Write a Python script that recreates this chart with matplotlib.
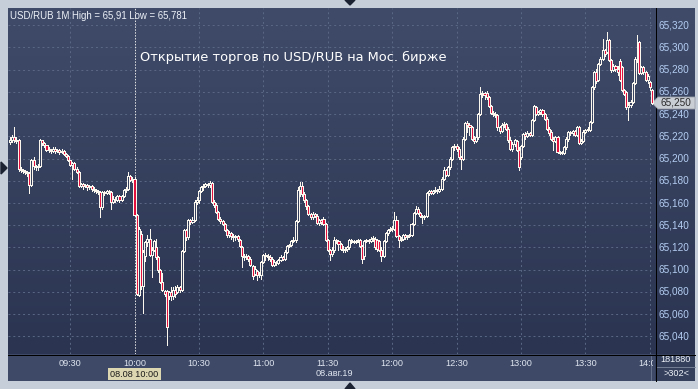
import numpy as np
import matplotlib.pyplot as plt
from matplotlib.patches import Rectangle, Polygon
from matplotlib.collections import PatchCollection

W, H = 698, 389

# 1-minute USD/RUB candles from 09:02 to 14:01, values in thousandths above 65.000
opens = [
    215, 217, 219, 217, 217, 191, 190, 189, 188, 187,
    176, 199, 193, 192, 193, 217, 214, 212, 208, 208,
    207, 209, 207, 208, 206, 207, 204, 202, 199, 194,
    196, 191, 188, 175, 177, 175, 176, 174, 175, 173,
    172, 171, 170, 156, 170, 169, 171, 170, 161, 164,
    163, 166, 163, 166, 172, 173, 184, 181, 182, 149,
    77, 132, 85, 112, 125, 128, 113, 118, 120, 111,
    100, 89, 81, 81, 76, 80, 76, 82, 80, 84,
    82, 117, 136, 129, 145, 143, 145, 161, 163, 171,
    174, 175, 177, 176, 178, 161, 158, 152, 146, 144,
    141, 136, 131, 133, 130, 129, 130, 127, 120, 112,
    111, 112, 110, 103, 96, 99, 95, 95, 107, 113,
    112, 111, 110, 104, 107, 106, 109, 111, 110, 116,
    121, 122, 126, 127, 144, 172, 175, 168, 163, 157,
    150, 147, 150, 148, 142, 145, 146, 141, 127, 118,
    114, 118, 127, 126, 123, 119, 118, 119, 120, 127,
    126, 125, 126, 127, 121, 112, 126, 127, 126, 128,
    128, 127, 126, 118, 112, 126, 133, 136, 137, 137,
    145, 130, 127, 128, 131, 129, 130, 131, 141, 151,
    155, 151, 148, 147, 148, 169, 171, 169, 171, 172,
    171, 173, 182, 190, 185, 192, 200, 210, 211, 209,
    201, 200, 218, 232, 230, 228, 218, 216, 219, 240,
    258, 259, 259, 255, 247, 241, 240, 239, 228, 225,
    230, 231, 227, 217, 209, 213, 216, 208, 201, 211,
    222, 220, 223, 221, 235, 246, 240, 242, 244, 240,
    236, 227, 224, 218, 216, 219, 206, 205, 205, 210,
    218, 224, 223, 225, 221, 228, 214, 216, 224, 226,
    226, 233, 264, 278, 271, 285, 290, 298, 296, 307,
    289, 280, 283, 281, 288, 282, 262, 260, 246, 248,
    251, 268, 290, 305, 277, 282, 278, 271, 269, 262,
]
closes = [
    217, 219, 217, 216, 191, 190, 189, 188, 187, 176,
    199, 193, 192, 193, 217, 214, 212, 208, 208, 207,
    209, 207, 208, 206, 207, 204, 202, 199, 194, 196,
    191, 188, 175, 177, 175, 176, 174, 175, 173, 172,
    171, 170, 156, 170, 169, 171, 170, 161, 164, 163,
    166, 163, 166, 172, 173, 184, 181, 182, 149, 78,
    137, 85, 116, 125, 128, 113, 118, 126, 111, 100,
    89, 82, 78, 48, 80, 76, 82, 78, 84, 82,
    117, 136, 129, 145, 143, 145, 161, 163, 171, 174,
    175, 177, 176, 178, 161, 158, 152, 146, 144, 141,
    136, 131, 133, 130, 129, 130, 128, 121, 112, 111,
    112, 110, 104, 94, 101, 95, 96, 107, 113, 112,
    111, 110, 104, 107, 106, 109, 111, 110, 116, 121,
    122, 126, 127, 144, 172, 175, 168, 163, 157, 150,
    147, 150, 148, 142, 145, 143, 141, 127, 118, 114,
    118, 127, 126, 123, 119, 118, 119, 120, 127, 126,
    125, 126, 127, 121, 110, 126, 127, 126, 128, 128,
    120, 119, 118, 112, 126, 133, 136, 137, 137, 145,
    130, 127, 128, 131, 129, 130, 131, 141, 151, 155,
    151, 148, 147, 148, 169, 171, 169, 171, 172, 171,
    173, 182, 190, 185, 192, 200, 210, 211, 209, 201,
    200, 218, 232, 230, 228, 218, 216, 219, 240, 258,
    259, 257, 255, 247, 241, 240, 239, 228, 225, 230,
    231, 227, 217, 209, 213, 217, 208, 192, 211, 222,
    220, 223, 221, 235, 247, 240, 242, 244, 240, 236,
    227, 223, 218, 216, 219, 206, 205, 206, 210, 218,
    224, 223, 225, 221, 228, 214, 216, 224, 226, 226,
    233, 264, 278, 270, 285, 290, 298, 294, 307, 289,
    280, 283, 281, 278, 271, 262, 258, 246, 248, 251,
    268, 290, 289, 277, 282, 278, 271, 274, 264, 250,
]
highs = [
    219, 221, 228, 219, 218, 192, 191, 190, 189, 188,
    200, 201, 194, 195, 218, 217, 215, 212, 210, 209,
    210, 210, 209, 209, 209, 208, 205, 203, 199, 197,
    197, 192, 189, 178, 178, 177, 177, 176, 176, 174,
    173, 172, 171, 171, 171, 172, 172, 171, 166, 165,
    167, 167, 167, 173, 174, 188, 185, 183, 183, 150,
    138, 135, 118, 126, 131, 137, 120, 127, 128, 112,
    101, 97, 82, 82, 81, 84, 84, 85, 86, 85,
    118, 137, 137, 146, 146, 147, 163, 165, 172, 175,
    177, 178, 178, 180, 179, 163, 160, 153, 147, 145,
    142, 137, 135, 134, 132, 131, 131, 128, 121, 114,
    114, 113, 111, 104, 103, 100, 98, 108, 114, 115,
    114, 113, 111, 109, 108, 110, 113, 112, 118, 122,
    123, 127, 129, 145, 174, 179, 179, 170, 164, 158,
    151, 152, 151, 150, 146, 146, 147, 142, 128, 119,
    120, 129, 128, 127, 124, 121, 120, 121, 128, 128,
    127, 127, 128, 128, 122, 127, 128, 128, 129, 130,
    129, 128, 127, 120, 127, 134, 137, 138, 139, 152,
    148, 131, 129, 132, 132, 131, 132, 142, 152, 157,
    156, 152, 149, 149, 170, 172, 172, 172, 174, 173,
    175, 183, 192, 191, 193, 201, 211, 213, 213, 210,
    202, 219, 233, 234, 232, 229, 220, 227, 241, 264,
    261, 260, 261, 256, 248, 243, 242, 240, 229, 232,
    233, 232, 228, 219, 215, 218, 217, 210, 212, 223,
    224, 225, 224, 236, 248, 247, 243, 245, 245, 241,
    237, 228, 226, 219, 220, 220, 207, 207, 211, 219,
    225, 225, 226, 226, 229, 229, 218, 226, 227, 228,
    234, 265, 279, 281, 286, 291, 308, 299, 314, 308,
    290, 285, 284, 283, 290, 283, 263, 261, 251, 253,
    269, 291, 311, 306, 283, 283, 279, 276, 270, 263,
]
lows = [
    213, 215, 215, 214, 189, 188, 187, 186, 184, 169,
    175, 191, 190, 190, 192, 212, 210, 207, 206, 205,
    206, 205, 206, 204, 205, 203, 201, 198, 193, 182,
    190, 187, 174, 174, 173, 174, 172, 173, 171, 170,
    169, 168, 147, 155, 167, 168, 168, 155, 160, 161,
    162, 161, 162, 165, 170, 172, 180, 179, 148, 77,
    76, 83, 61, 108, 121, 112, 93, 117, 110, 98,
    88, 81, 76, 32, 74, 73, 74, 75, 79, 80,
    81, 116, 127, 128, 141, 142, 144, 159, 160, 170,
    172, 174, 174, 174, 160, 156, 151, 145, 142, 140,
    135, 129, 129, 128, 126, 127, 126, 120, 102, 109,
    110, 108, 103, 92, 95, 91, 93, 92, 106, 109,
    109, 108, 103, 103, 104, 105, 108, 109, 109, 115,
    120, 121, 125, 125, 143, 166, 166, 161, 155, 149,
    146, 146, 147, 141, 140, 141, 140, 126, 117, 109,
    112, 116, 124, 118, 118, 116, 116, 117, 119, 124,
    124, 124, 125, 120, 106, 110, 125, 124, 125, 126,
    119, 117, 117, 108, 111, 125, 131, 135, 135, 136,
    129, 120, 126, 127, 128, 128, 129, 130, 140, 150,
    150, 147, 142, 146, 147, 167, 168, 168, 170, 169,
    170, 172, 181, 184, 184, 191, 199, 208, 207, 200,
    191, 199, 217, 224, 221, 217, 214, 215, 218, 239,
    255, 254, 254, 246, 240, 238, 237, 226, 223, 224,
    228, 226, 215, 208, 207, 211, 207, 190, 200, 210,
    218, 219, 220, 220, 234, 239, 239, 240, 238, 235,
    226, 221, 217, 208, 215, 205, 204, 204, 204, 209,
    216, 221, 221, 220, 220, 213, 213, 215, 223, 225,
    225, 232, 263, 268, 270, 284, 289, 292, 295, 288,
    278, 279, 279, 275, 270, 261, 257, 245, 235, 246,
    250, 267, 287, 276, 276, 276, 270, 268, 262, 249,
]
FIRST_MINUTE = 2  # first candle is 09:02

time_ticks = [30, 60, 90, 120, 150, 180, 210, 240, 270, 300]
time_labels = ['09:30', '10:00', '10:30', '11:00', '11:30', '12:00',
               '12:30', '13:00', '13:30', '14:00']
price_ticks = [65.040, 65.060, 65.080, 65.100, 65.120, 65.140, 65.160, 65.180,
               65.200, 65.220, 65.240, 65.260, 65.280, 65.300, 65.320]
last_price = 65.250

# colours
FRAME = '#c6ceda'
PLOT_TOP = '#3f4b69'
PLOT_BOT = '#2b3552'
STRIP = '#3d4966'
GRID = '#5b6885'
WHITE = '#fbf6ee'
RED = '#e3103d'
LABEL_BLUE = '#b4cdf2'

# pixel layout of the reference
PL, PR, PT, PB = 8, 655, 8, 354
YLO, YHI = 65.0241, 65.3355
XLO, XHI = 1.08, 302.4

fig = plt.figure(figsize=(W / 100, H / 100), dpi=100)
fig.patch.set_facecolor(FRAME)

# background layer in pixel coordinates
bg = fig.add_axes([0, 0, 1, 1])
bg.set_xlim(0, W)
bg.set_ylim(H, 0)
bg.axis('off')
grad = np.linspace(0, 1, 256)[:, None]
cmap = plt.matplotlib.colors.LinearSegmentedColormap.from_list('g', [PLOT_TOP, PLOT_BOT])
bg.imshow(grad, cmap=cmap, aspect='auto', extent=[PL, 695, PB, PT], zorder=0)
bg.add_patch(Rectangle((PL, PB), 695 - PL, 381 - PB, facecolor=STRIP, edgecolor='none', zorder=1))
bg.add_patch(Rectangle((PR, PB), 695 - PR, 381 - PB, facecolor='#34405c', edgecolor='none', zorder=1))
bg.plot([PR + 0.5, PR + 0.5], [PT, 381], color='black', lw=0.72, antialiased=False, zorder=3)
bg.plot([PL, 695], [PB + 0.5, PB + 0.5], color='black', lw=0.72, antialiased=False, zorder=3)
bg.plot([657, 695], [367, 367], color='#7d889e', lw=0.6, zorder=3)
bg.plot([651, 651], [356, 380], color='#6c7890', lw=0.6, zorder=3)

# frame markers
bg.add_patch(Polygon([[1, 162], [7, 168], [1, 174]], closed=True, color='#1b2232', zorder=3))
bg.add_patch(Polygon([[345, 0], [355, 0], [350, 5]], closed=True, color='#1b2232', zorder=3))
bg.add_patch(Polygon([[345, 389], [355, 389], [350, 383]], closed=True, color='#1b2232', zorder=3))

ax = fig.add_axes([PL / W, 1 - PB / H, (PR - PL) / W, (PB - PT) / H])
ax.set_facecolor('none')
ax.set_xlim(XLO, XHI)
ax.set_ylim(YLO, YHI)
ax.set_xticks([])
ax.set_yticks([])
for s in ax.spines.values():
    s.set_visible(False)

for p in price_ticks:
    ax.axhline(p, color=GRID, lw=0.7, dashes=(2, 3), zorder=1)
for tm in time_ticks:
    if tm == 60:
        ax.axvline(tm, color='#e6e6e6', lw=0.7, dashes=(1.5, 1.5), zorder=1)
    else:
        ax.axvline(tm, color=GRID, lw=0.7, dashes=(2, 3), zorder=1)

o = 65 + np.array(opens) / 1000
c = 65 + np.array(closes) / 1000
h = 65 + np.array(highs) / 1000
l = 65 + np.array(lows) / 1000
t = np.arange(len(c)) + FIRST_MINUTE
top = np.maximum(o, c)
bot = np.minimum(o, c)
down = c < o

ax.vlines(t, top, np.maximum(h, top), color=WHITE, lw=0.55, antialiased=False, zorder=3)
ax.vlines(t, np.minimum(l, bot), bot, color=WHITE, lw=0.55, antialiased=False, zorder=3)
rects = [Rectangle((ti - 0.48, b), 0.96, max(tp - b, 0.0004)) for ti, b, tp in zip(t, bot, top)]
faces = [RED if d else 'none' for d in down]
pc = PatchCollection(rects, facecolors=faces, edgecolors=WHITE, linewidths=0.45,
                     antialiased=False, zorder=4)
ax.add_collection(pc)

# price labels on the right strip
ytr = ax.get_yaxis_transform()
for p in price_ticks:
    ax.text(1 + (674 - PR) / (PR - PL), p, f'{p:.3f}'.replace('.', ','), transform=ytr,
            ha='center', va='center', fontsize=7.2, color=LABEL_BLUE,
            family='Liberation Sans', clip_on=False)

# current price marker
ypx = PB - (last_price - YLO) / (YHI - YLO) * (PB - PT)
bg.add_patch(Polygon([[652, ypx], [658, ypx - 6], [695, ypx - 6], [695, ypx + 6], [658, ypx + 6]],
                     closed=True, facecolor='#c9cdd4', edgecolor='#9aa0aa', lw=0.6, zorder=5))
bg.text(676, ypx, f'{last_price:.3f}'.replace('.', ','), ha='center', va='center',
        fontsize=7.2, color='#2a2a2a', family='Liberation Sans', zorder=6)

# time labels on the bottom strip (clipped at the price strip like the reference)
clip = Rectangle((PL, PB), PR - PL - 2, 381 - PB, transform=bg.transData)
xtr = ax.get_xaxis_transform()
for tm, lab in zip(time_ticks, time_labels):
    txt = ax.text(tm, -9 / (PB - PT), lab, transform=xtr, ha='center', va='center',
                  fontsize=6.6, color='#dfe5f0', family='Liberation Sans', clip_on=True)
    txt.set_clip_path(clip)
ax.text(150 + 3, -20 / (PB - PT), '08.авг.19', transform=xtr, ha='center', va='center',
        fontsize=6.6, color='#dfe5f0', family='Liberation Sans', clip_on=False)

bg.add_patch(Rectangle((108, 368), 53, 12, facecolor='#ddd7b1', edgecolor='none', zorder=5))
bg.text(134.5, 374.5, '08.08 10:00', ha='center', va='center', fontsize=6.6,
        color='#1a1a1a', family='Liberation Sans', zorder=6)

bg.text(676, 360, '181880', ha='center', va='center', fontsize=6.6, color='#eef2f8',
        family='Liberation Sans', zorder=6)
bg.text(676, 374, '>302<', ha='center', va='center', fontsize=6.6, color='#eef2f8',
        family='Liberation Sans', zorder=6)

# titles
bg.text(10, 16, 'USD/RUB 1M High = 65,91 Low = 65,781', ha='left', va='center',
        fontsize=6.9, color='#eef2f8', family='Liberation Sans', zorder=6)
bg.text(140, 57, 'Открытие торгов по USD/RUB на Мос. бирже', ha='left', va='center',
        fontsize=9.4, color='#ffffff', family='DejaVu Sans', zorder=6)

fig.savefig('out.png', dpi=100, facecolor=fig.get_facecolor())
